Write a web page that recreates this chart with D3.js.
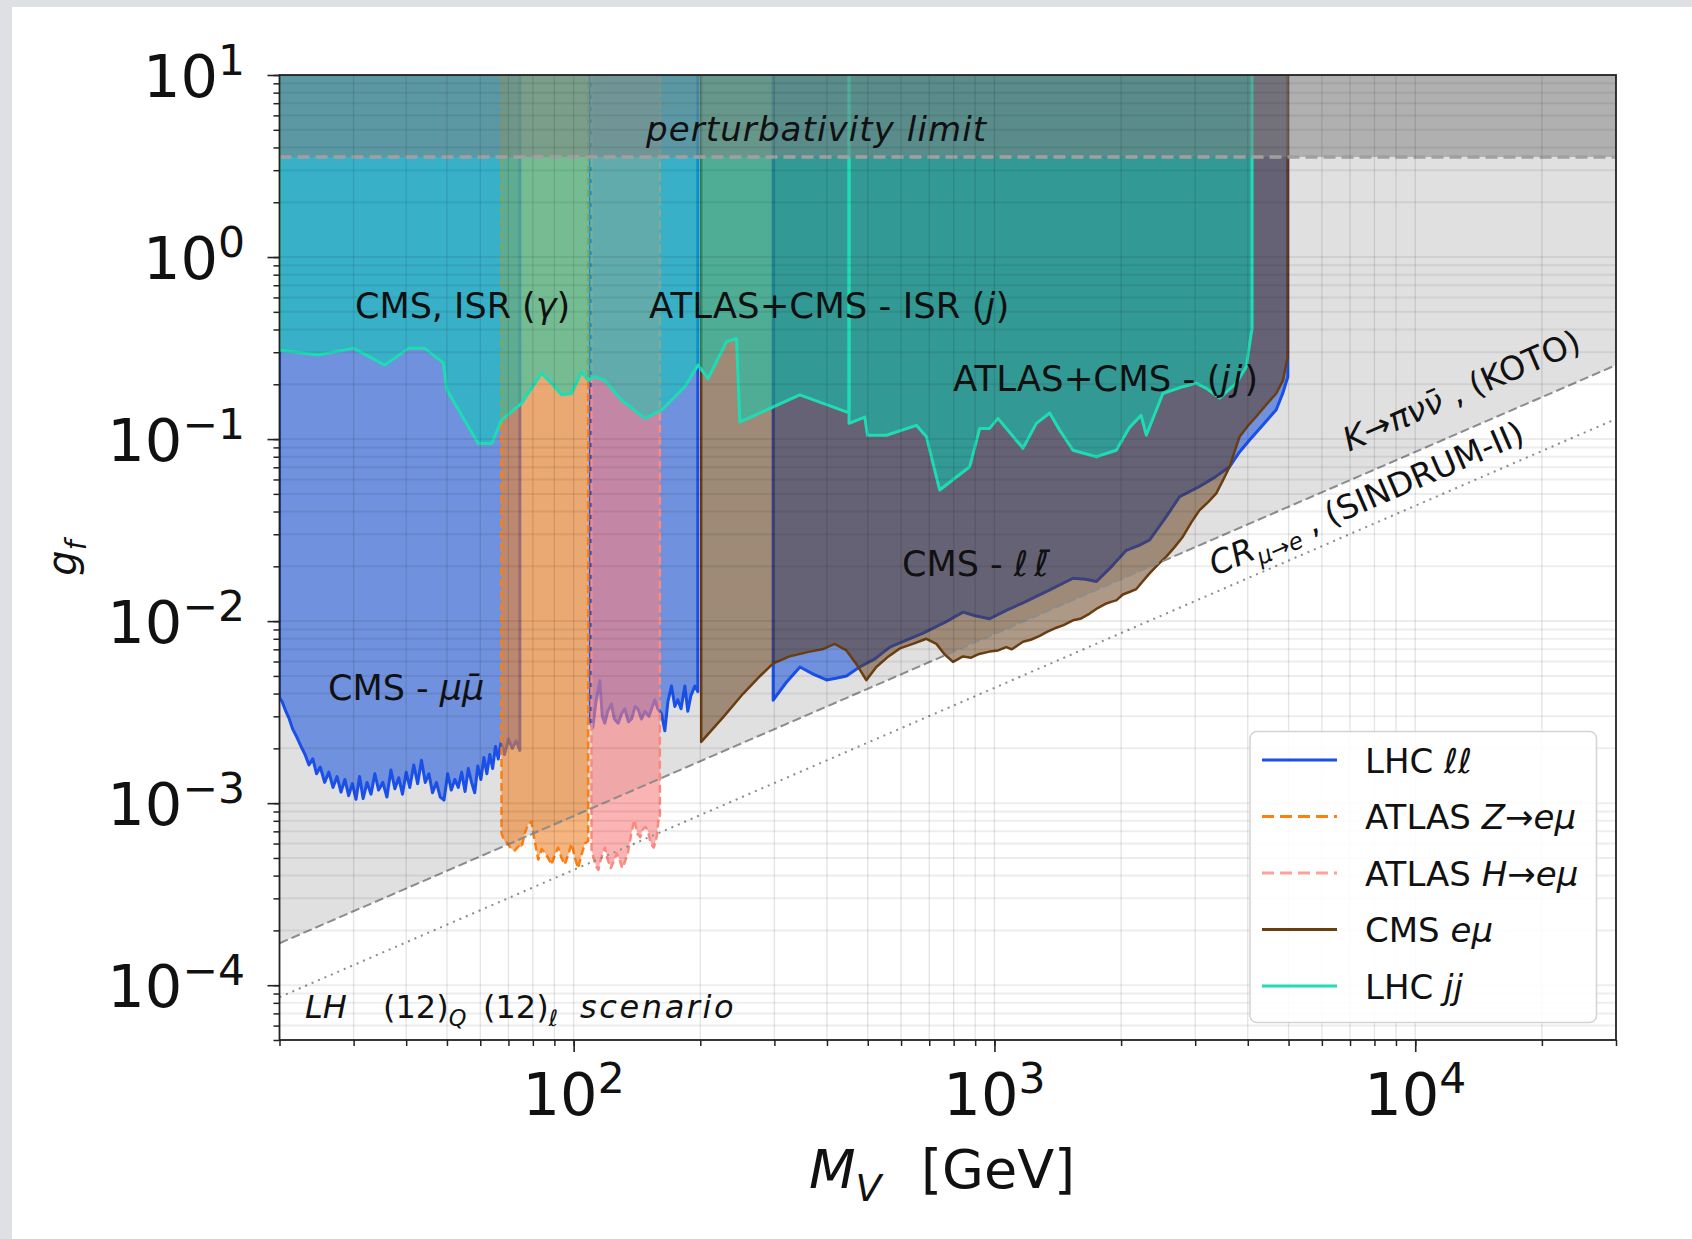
<!DOCTYPE html>
<html>
<head>
<meta charset="utf-8">
<script src="https://cdn.jsdelivr.net/npm/d3@7"></script>
<style>
  body { margin: 0; background: #fff; }
  svg text { font-family: "DejaVu Sans", sans-serif; fill: #111; }
</style>
</head>
<body>
<div id="chart"></div>
<script>
var W = 1692, H = 1239,
    plot = { left: 279.5, right: 1616, top: 75, bottom: 1040 };

// ---- data ----
var xDomain = [20, 3e4],
    yDomain = [5e-5, 10],
    xMajor = [100, 1000, 10000], xMajorExp = ["2", "3", "4"],
    yMajor = [1e-4, 1e-3, 1e-2, 1e-1, 1, 10], yMajorExp = ["\u22124", "\u22123", "\u22122", "\u22121", "0", "1"],
    perturbLimit = 3.545;

var kotoLine = [[20, 1.7e-4], [3e4, 0.255]];
var sindrumLine = [[20, 8.6e-5], [3e4, 0.129]];

// CMS mu mu (low mass, below the Z window)
var cmsMuMu = [[20,3.8e-3],[20.3,3.6e-3],[20.7,3.2e-3],[21.1,2.9e-3],[21.5,2.55e-3],[22,2.3e-3],[22.5,2.05e-3],[23,1.85e-3],[23.5,1.62e-3],[24,1.75e-3],[24.5,1.45e-3],[25,1.58e-3],[25.6,1.3e-3],[26.2,1.48e-3],[26.8,1.22e-3],[27.4,1.4e-3],[28,1.15e-3],[28.6,1.35e-3],[29.2,1.1e-3],[29.8,1.28e-3],[30.4,1.05e-3],[31,1.4e-3],[31.6,1.06e-3],[32.3,1.3e-3],[33,1.12e-3],[33.7,1.45e-3],[34.4,1.18e-3],[35.2,1.3e-3],[36,1.08e-3],[36.8,1.52e-3],[37.6,1.2e-3],[38.4,1.38e-3],[39.2,1.12e-3],[40,1.48e-3],[40.8,1.22e-3],[41.7,1.62e-3],[42.6,1.28e-3],[43.5,1.72e-3],[44.4,1.3e-3],[45.3,1.45e-3],[46.2,1.14e-3],[47.2,1.3e-3],[48.2,1.08e-3],[49.2,1.04e-3],[50.2,1.45e-3],[51.2,1.18e-3],[52.2,1.35e-3],[53.2,1.22e-3],[54.2,1.48e-3],[55.2,1.16e-3],[56.2,1.55e-3],[57.2,1.3e-3],[58.2,1.14e-3],[59.2,1.6e-3],[60.2,1.35e-3],[61.2,1.78e-3],[62.2,1.45e-3],[63.2,1.85e-3],[64.2,1.55e-3],[65.2,2.05e-3],[66.2,1.75e-3],[67.2,2.15e-3],[68.5,1.85e-3],[70,2.25e-3],[71.5,2.0e-3],[73,2.2e-3],[74.5,1.95e-3]];
// CMS mu mu (above the Z window)
var cmsMuMu2 = [[109.5,2.8e-3],[111,2.6e-3],[113,3.6e-3],[115.4,4.7e-3],[117,3.0e-3],[118.6,2.75e-3],[120.5,3.2e-3],[123,3.5e-3],[125,2.9e-3],[127.6,2.75e-3],[130,3.1e-3],[132.3,3.3e-3],[135,2.8e-3],[137.3,2.9e-3],[140,3.4e-3],[142.1,3.3e-3],[145,2.9e-3],[147.6,3.2e-3],[151,3.0e-3],[155.9,3.7e-3],[158.5,3.3e-3],[161.7,3.1e-3],[164.7,2.5e-3],[167.5,3.6e-3],[170.8,4.4e-3],[174,3.4e-3],[176.8,3.7e-3],[180,3.3e-3],[183.8,4.4e-3],[186.8,3.2e-3],[190,3.9e-3],[194.1,4.4e-3],[197.3,4.1e-3]];
// CMS l l (high mass)
var cmsLL = [[298,3.68e-3],[320,4.6e-3],[345,5.6e-3],[372,5.1e-3],[399,4.75e-3],[420,4.85e-3],[445,5.0e-3],[478,5.6e-3],[520,6.2e-3],[564,7.2e-3],[620,7.9e-3],[677,8.6e-3],[760,9.8e-3],[842,1.12e-2],[900,1.07e-2],[974,1.03e-2],[1070,1.15e-2],[1169,1.26e-2],[1350,1.48e-2],[1537,1.72e-2],[1650,1.70e-2],[1747,1.65e-2],[1900,2.0e-2],[2058,2.45e-2],[2200,2.6e-2],[2337,2.79e-2],[2550,3.7e-2],[2754,4.82e-2],[3073,5.5e-2],[3350,6.2e-2],[3622,7.05e-2],[3824,8.5e-2],[4040,0.0988],[4350,0.12],[4674,0.145],[4850,0.18],[4980,0.22]];
// ATLAS Z -> e mu
var atlasZ = [[67.4,6.8e-4],[68.5,6.2e-4],[69.9,6.0e-4],[71,5.6e-4],[72.5,5.5e-4],[74,5.8e-4],[75.2,5.7e-4],[76.5,6.8e-4],[78,7.7e-4],[79.4,7.9e-4],[80.8,6.2e-4],[82.4,4.9e-4],[84,5.6e-4],[85.5,5.3e-4],[87,5.0e-4],[88.6,4.6e-4],[90.2,5.2e-4],[91.9,5.7e-4],[93.6,5.0e-4],[95.3,4.6e-4],[97,5.2e-4],[98.9,6.0e-4],[100.7,5.0e-4],[102.5,4.4e-4],[104.4,5.2e-4],[106.3,6.0e-4],[108.3,6.2e-4]];
// ATLAS H -> e mu
var atlasH = [[110.3,5.6e-4],[111.5,5.0e-4],[113,4.5e-4],[114.5,4.3e-4],[116,4.9e-4],[117.5,5.4e-4],[118.6,5.7e-4],[120.5,4.9e-4],[122.6,4.4e-4],[124.5,4.8e-4],[126.6,5.3e-4],[128.5,4.9e-4],[130.5,4.4e-4],[132.5,4.8e-4],[134.5,5.3e-4],[137.1,6.8e-4],[139.4,8.1e-4],[141.7,6.8e-4],[144,6.5e-4],[146,7.2e-4],[148.3,7.4e-4],[150.3,7.0e-4],[152.5,6.0e-4],[155,5.7e-4],[157.5,6.5e-4],[159.5,8.5e-4],[160.3,8.5e-4]];
// CMS e mu
var cmsEmu = [[201,2.17e-3],[227,2.98e-3],[253,4.0e-3],[275,4.9e-3],[298,5.86e-3],[326,6.4e-3],[364,6.8e-3],[390,7.0e-3],[417,7.5e-3],[445,6.9e-3],[470,5.8e-3],[496,4.74e-3],[524,5.6e-3],[560,6.4e-3],[596,7.08e-3],[640,7.5e-3],[689,8.0e-3],[728,7.5e-3],[760,6.6e-3],[797,5.97e-3],[842,6.4e-3],[880,6.3e-3],[920,6.6e-3],[974,6.8e-3],[1020,6.9e-3],[1067,7.2e-3],[1100,7.0e-3],[1169,7.7e-3],[1220,7.9e-3],[1281,8.3e-3],[1330,8.7e-3],[1403,9.2e-3],[1460,9.5e-3],[1537,1.01e-2],[1600,1.03e-2],[1684,1.10e-2],[1760,1.18e-2],[1845,1.25e-2],[1900,1.28e-2],[1948,1.30e-2],[2020,1.40e-2],[2100,1.45e-2],[2174,1.5e-2],[2250,1.65e-2],[2337,1.83e-2],[2450,2.05e-2],[2561,2.26e-2],[2680,2.55e-2],[2804,2.91e-2],[2940,3.5e-2],[3073,4.07e-2],[3220,4.5e-2],[3367,5.03e-2],[3500,6.0e-2],[3622,7.05e-2],[3720,8.5e-2],[3824,0.103],[4000,0.118],[4191,0.133],[4430,0.155],[4674,0.178],[4850,0.21],[4937,0.26],[4980,0.28]];
// LHC ISR (photon / jet)
var isrBound = [[20,0.308],[24.7,0.290],[30,0.315],[35.6,0.255],[40.5,0.315],[44.3,0.315],[49,0.262],[50,0.186],[59.3,0.0946],[63.9,0.0946],[67.4,0.127],[75.2,0.157],[83.9,0.230],[88.6,0.203],[93.6,0.175],[98.9,0.178],[104.4,0.234],[108.3,0.21],[112.3,0.22],[118.6,0.21],[130,0.164],[147.6,0.13],[161.7,0.144],[183.8,0.194],[197.6,0.255],[208.7,0.215],[230.8,0.343],[243.8,0.357],[248.3,0.124],[344.7,0.175],[444.9,0.141],[451.4,0.141]];
// LHC dijet
var dijetBound = [[451.4,0.122],[491.8,0.132],[499.5,0.105],[553.8,0.105],[652.5,0.119],[689.3,0.103],[741.3,0.0525],[873.5,0.0705],[922.5,0.1145],[974.3,0.1145],[1019.5,0.130],[1169,0.089],[1258,0.122],[1353,0.139],[1429,0.112],[1537,0.0868],[1747,0.080],[1948,0.0868],[2095,0.116],[2231,0.135],[2296,0.105],[2424,0.144],[2513,0.178],[2804,0.194],[3018,0.203],[3188,0.190],[3428,0.168],[3756,0.203],[3966,0.249],[4076,0.38],[4095,0.40]];

var legendNames = [
  [{t: "LHC "}, {t: "\u2113\u2113", i: 1}],
  [{t: "ATLAS "}, {t: "Z", i: 1}, {t: "\u2192"}, {t: "e\u03bc", i: 1}],
  [{t: "ATLAS "}, {t: "H", i: 1}, {t: "\u2192"}, {t: "e\u03bc", i: 1}],
  [{t: "CMS "}, {t: "e\u03bc", i: 1}],
  [{t: "LHC "}, {t: "jj", i: 1}]
];

// ---- scales ----
var x = d3.scaleLog().domain(xDomain).range([plot.left, plot.right]);
var y = d3.scaleLog().domain(yDomain).range([plot.bottom, plot.top]);

var svg = d3.select("#chart").append("svg")
    .attr("width", W).attr("height", H);

svg.append("rect").attr("width", W).attr("height", H).attr("fill", "#fff");
svg.append("rect").attr("width", W).attr("height", 7).attr("fill", "#dfe0e3");
svg.append("rect").attr("width", 12).attr("height", H).attr("fill", "#dfe0e3");

svg.append("clipPath").attr("id", "clip").append("rect")
    .attr("x", plot.left).attr("y", plot.top)
    .attr("width", plot.right - plot.left).attr("height", plot.bottom - plot.top);

var g = svg.append("g").attr("clip-path", "url(#clip)");

var area = d3.area().x(function(d) { return x(d[0]); }).y0(y(10)).y1(function(d) { return y(d[1]); });
var line = d3.line().x(function(d) { return x(d[0]); }).y(function(d) { return y(d[1]); });
function toTop(pts) { return [[pts[0][0], 10]].concat(pts, [[pts[pts.length - 1][0], 10]]); }

// excluded region above the KOTO line
g.append("path").attr("d", area(kotoLine)).attr("fill", "#e0e0e0");

function region(pts, fill, op, stroke, sw, dash) {
  g.append("path").attr("d", area(pts)).attr("fill", fill).attr("fill-opacity", op);
  g.append("path").attr("d", line(toTop(pts))).attr("fill", "none")
    .attr("stroke", stroke).attr("stroke-width", sw)
    .attr("stroke-dasharray", dash || null).attr("stroke-linejoin", "round");
}

region(cmsMuMu, "rgb(37,91,219)", 0.6, "#1a4fe8", 3);
region(cmsMuMu2, "rgb(37,91,219)", 0.6, "#1a4fe8", 3);
region(cmsLL, "rgb(37,91,219)", 0.6, "#1a4fe8", 3);
region(atlasZ, "rgb(240,130,40)", 0.6, "#ff7f0e", 2.5, "8,4");
region(atlasH, "rgb(250,128,128)", 0.6, "#fa8a80", 2.5, "8,4");
region(cmsEmu, "rgb(92,52,14)", 0.5, "#6b3e12", 2.5);
region(isrBound, "rgb(0,208,180)", 0.5, "#1fdcb4", 3);
region(dijetBound, "rgb(0,208,180)", 0.5, "#1fdcb4", 3);

// perturbativity band
g.append("rect").attr("x", plot.left).attr("y", y(10))
  .attr("width", plot.right - plot.left).attr("height", y(perturbLimit) - y(10))
  .attr("fill", "rgb(128,128,128)").attr("fill-opacity", 0.5);
g.append("line").attr("x1", plot.left).attr("x2", plot.right)
  .attr("y1", y(perturbLimit)).attr("y2", y(perturbLimit))
  .attr("stroke", "#a0a0a0").attr("stroke-width", 3.5).attr("stroke-dasharray", "12,6");

g.append("path").attr("d", line(kotoLine)).attr("stroke", "#8c8c8c").attr("stroke-width", 2)
  .attr("stroke-dasharray", "9,4").attr("fill", "none");
g.append("path").attr("d", line(sindrumLine)).attr("stroke", "#8c8c8c").attr("stroke-width", 2)
  .attr("stroke-dasharray", "2,5").attr("fill", "none");

// grid (major + minor)
var gridG = svg.append("g").attr("clip-path", "url(#clip)");
gridG.selectAll(".gx").data(x.ticks()).enter().append("line")
  .attr("x1", function(d) { return x(d); }).attr("x2", function(d) { return x(d); })
  .attr("y1", plot.top).attr("y2", plot.bottom)
  .attr("stroke", "#000").attr("stroke-opacity", 0.11).attr("stroke-width", 1.3);
gridG.selectAll(".gy").data(y.ticks()).enter().append("line")
  .attr("y1", function(d) { return y(d); }).attr("y2", function(d) { return y(d); })
  .attr("x1", plot.left).attr("x2", plot.right)
  .attr("stroke", "#000").attr("stroke-opacity", 0.07).attr("stroke-width", 2);

// rich text helper
function rich(parent, x0, y0, parts, size, anchor, transform) {
  var t = parent.append("text").attr("x", x0).attr("y", y0).attr("font-size", size)
    .attr("text-anchor", anchor || "start");
  if (transform) t.attr("transform", transform);
  var cur = 0;
  parts.forEach(function(p) {
    var s = t.append("tspan").text(p.t);
    var sc = p.sc || 0.7;
    var shift = p.sub ? size * 0.24 : (p.sup ? -size * 0.37 : 0);
    if (shift !== cur) { s.attr("dy", shift - cur); cur = shift; }
    if (p.x !== undefined) s.attr("x", p.x);
    if (p.i) s.attr("font-style", "italic");
    if (p.ls) s.attr("letter-spacing", p.ls);
    if (p.sub || p.sup) s.attr("font-size", size * sc);
  });
  return t;
}

// annotations
var ann = svg.append("g");
rich(ann, 646, 141, [{t: "perturbativity limit", i: 1, ls: 1.1}], 34);
rich(ann, 355, 318, [{t: "CMS, ISR ("}, {t: "\u03b3", i: 1}, {t: ")"}], 35);
rich(ann, 649, 318, [{t: "ATLAS+CMS - ISR ("}, {t: "j", i: 1}, {t: ")"}], 35.5);
rich(ann, 953, 391, [{t: "ATLAS+CMS - ("}, {t: "jj", i: 1, ls: 2}, {t: ")"}], 35.5);
rich(ann, 902, 576, [{t: "CMS - "}, {t: "\u2113\u2113\u0304", i: 1, ls: 6}], 35);
rich(ann, 328, 700, [{t: "CMS - "}, {t: "\u03bc\u03bc\u0304", i: 1}], 35);
rich(ann, 305, 1018, [{t: "LH", i: 1}, {t: "(12)", x: 383}, {t: "Q", i: 1, sub: 1}, {t: "(12)", x: 483},
  {t: "\u2113", i: 1, sub: 1}, {t: "scenario", i: 1, x: 580, ls: 2.6}], 32);
var ang = -Math.atan((y(kotoLine[0][1]) - y(kotoLine[1][1])) / (x(kotoLine[1][0]) - x(kotoLine[0][0]))) * 180 / Math.PI;
rich(ann, 0, 0, [{t: "K\u2192\u03c0\u03bd\u03bd\u0304", i: 1}, {t: " , (KOTO)"}], 33, "middle",
  "translate(1466,401) rotate(" + ang + ")");
rich(ann, 0, 0, [{t: "CR", i: 1}, {t: "\u03bc\u2192e", i: 1, sub: 1}, {t: " , (SINDRUM-II)"}], 33, "middle",
  "translate(1371,509) rotate(" + ang + ")");

// frame and ticks
var axG = svg.append("g");
axG.append("rect").attr("x", plot.left).attr("y", plot.top)
  .attr("width", plot.right - plot.left).attr("height", plot.bottom - plot.top)
  .attr("fill", "none").attr("stroke", "#222").attr("stroke-width", 1.8);

axG.append("g").attr("transform", "translate(0," + plot.bottom + ")")
  .call(d3.axisBottom(x).tickValues(x.ticks()).tickSize(6).tickFormat(""))
  .call(function(a) { a.select(".domain").remove(); a.selectAll("line").attr("stroke", "#222").attr("stroke-width", 1.5); });
axG.append("g").attr("transform", "translate(0," + plot.bottom + ")")
  .call(d3.axisBottom(x).tickValues(xMajor).tickSize(12).tickFormat(""))
  .call(function(a) { a.select(".domain").remove(); a.selectAll("line").attr("stroke", "#222").attr("stroke-width", 1.6); });
axG.append("g").attr("transform", "translate(" + plot.left + ",0)")
  .call(d3.axisLeft(y).tickValues(y.ticks()).tickSize(6).tickFormat(""))
  .call(function(a) { a.select(".domain").remove(); a.selectAll("line").attr("stroke", "#222").attr("stroke-width", 1.5); });
axG.append("g").attr("transform", "translate(" + plot.left + ",0)")
  .call(d3.axisLeft(y).tickValues(yMajor).tickSize(12).tickFormat(""))
  .call(function(a) { a.select(".domain").remove(); a.selectAll("line").attr("stroke", "#222").attr("stroke-width", 1.6); });

xMajor.forEach(function(v, i) {
  rich(axG, x(v), 1115, [{t: "10"}, {t: xMajorExp[i], sup: 1, sc: 0.72}], 59, "middle");
});
yMajor.forEach(function(v, i) {
  rich(axG, 245, y(v) + 22, [{t: "10"}, {t: yMajorExp[i], sup: 1, sc: 0.72}], 59, "end");
});

rich(axG, 809, 1188, [{t: "M", i: 1}, {t: "V", i: 1, sub: 1}, {t: "[GeV]", x: 921}], 54);
rich(axG, 0, 0, [{t: "g", i: 1}, {t: "f", i: 1, sub: 1}], 40, "middle", "translate(76,558) rotate(-90)");

// legend
var lg = svg.append("g");
lg.append("rect").attr("x", 1250).attr("y", 731.5).attr("width", 346.5).attr("height", 291)
  .attr("rx", 7).attr("fill", "#fff").attr("fill-opacity", 0.88)
  .attr("stroke", "#d4d4d4").attr("stroke-width", 1.5);
var legStyles = [
  { c: "#1a4fe8", d: null },
  { c: "#ff7f0e", d: "12,6" },
  { c: "#ffa09a", d: "12,6" },
  { c: "#6b3e12", d: null },
  { c: "#1fdcb4", d: null }
];
legendNames.forEach(function(parts, i) {
  var yy = 760 + i * 56.5;
  lg.append("line").attr("x1", 1262).attr("x2", 1337).attr("y1", yy).attr("y2", yy)
    .attr("stroke", legStyles[i].c).attr("stroke-width", 3.2).attr("stroke-dasharray", legStyles[i].d);
  rich(lg, 1365, yy + 12.5, parts, 34);
});
</script>
</body>
</html>
